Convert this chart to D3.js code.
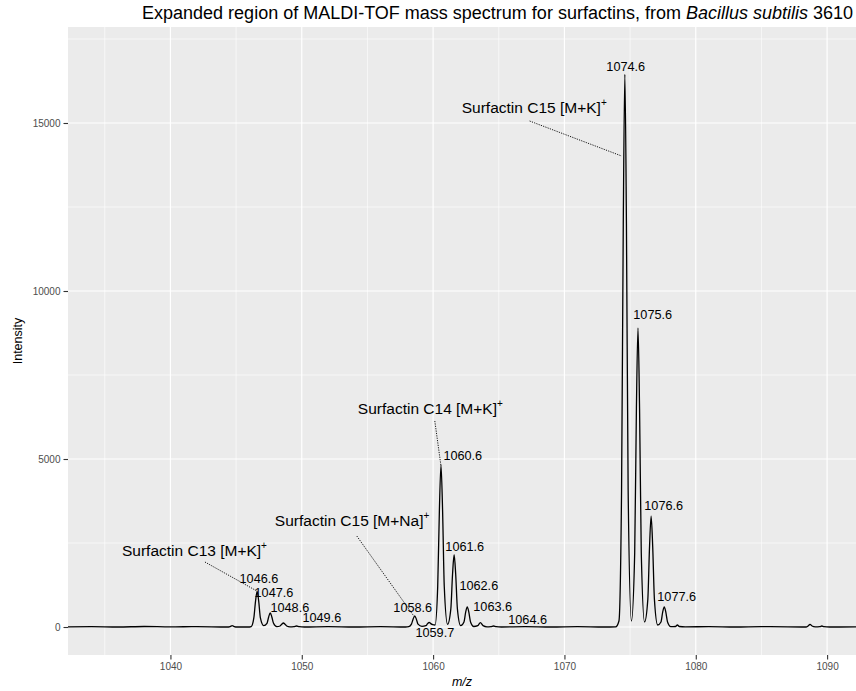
<!DOCTYPE html>
<html>
<head>
<meta charset="utf-8">
<script src="https://cdn.jsdelivr.net/npm/d3@7"></script>
<style>
  body { margin: 0; background: #fff; }
  text { font-family: 'Liberation Sans', Arial, sans-serif; }
</style>
</head>
<body>
<div id="container"></div>
<script>
// profile of the spectrum (m/z, intensity)
let specMz = [
  1032.2, 1034, 1036, 1038, 1040, 1042,
  1044.3, 1044.55, 1044.7, 1044.85, 1045.1, 1045.9,
  1046.15, 1046.35, 1046.48, 1046.6, 1046.72, 1046.85,
  1047.1, 1047.35, 1047.48, 1047.6, 1047.72, 1047.85,
  1048.1, 1048.35, 1048.48, 1048.6, 1048.72, 1048.85,
  1049.1, 1049.4, 1049.6, 1049.8, 1050.2, 1052, 1054, 1056,
  1057.9, 1058.15, 1058.35, 1058.48, 1058.6, 1058.72, 1058.85,
  1059.15, 1059.45, 1059.58, 1059.7, 1059.82, 1059.97,
  1060.15, 1060.35, 1060.48, 1060.6, 1060.72, 1060.85,
  1061.1, 1061.35, 1061.48, 1061.6, 1061.72, 1061.85,
  1062.1, 1062.35, 1062.48, 1062.6, 1062.72, 1062.85,
  1063.1, 1063.4, 1063.6, 1063.8, 1064.1, 1064.4, 1064.6, 1064.8,
  1065.2, 1067, 1069, 1071, 1073, 1073.9,
  1074.15, 1074.35, 1074.48, 1074.6, 1074.72, 1074.85,
  1075.1, 1075.35, 1075.48, 1075.6, 1075.72, 1075.85,
  1076.1, 1076.35, 1076.48, 1076.6, 1076.72, 1076.85,
  1077.1, 1077.35, 1077.48, 1077.6, 1077.72, 1077.85,
  1078.1, 1078.45, 1078.6, 1078.75, 1079.2, 1081, 1083, 1085, 1087,
  1088.4, 1088.55, 1088.7, 1088.85, 1089.1, 1089.45, 1089.6, 1089.75, 1090.2, 1092.2
]
let specInt = [
  5, 10, 0, 15, 5, 10,
  0, 15, 40, 15, 0, 0,
  15, 270, 770, 1060, 770, 270,
  40, 110, 300, 420, 300, 110,
  10, 30, 85, 120, 85, 30,
  5, 10, 30, 10, 0, 10, 0, 10,
  0, 10, 85, 240, 330, 240, 85,
  20, 40, 100, 140, 100, 70,
  60, 1205, 3500, 4820, 3500, 1205,
  80, 540, 1570, 2150, 1570, 540,
  40, 150, 440, 600, 440, 150,
  15, 40, 130, 40, 5, 10, 30, 10,
  0, 10, 0, 10, 0, 5,
  180, 4100, 12000, 16450, 12000, 4100,
  180, 2220, 6500, 8900, 6500, 2220,
  150, 830, 2400, 3300, 2400, 830,
  60, 150, 440, 600, 440, 150,
  10, 15, 60, 15, 5, 10, 0, 10, 5,
  0, 30, 80, 30, 5, 10, 30, 10, 0, 5
]

// peak labels and where their text sits (data units)
let peakLabels = ['1046.6', '1047.6', '1048.6', '1049.6', '1058.6', '1059.7', '1060.6', '1061.6',
  '1062.6', '1063.6', '1064.6', '1074.6', '1075.6', '1076.6', '1077.6']
let peakLabelMz = [1046.74, 1047.88, 1049.09, 1051.53, 1058.45, 1060.13, 1062.26, 1062.41,
  1063.48, 1064.54, 1067.2, 1074.67, 1076.72, 1077.56, 1078.55]
let peakLabelInt = [1428, 1012, 565, 268, 565, -179, 5089, 2381,
  1220, 595, 208, 16667, 9286, 3601, 893]

// compound annotations
let annoNames = ['Surfactin C13 [M+K]', 'Surfactin C15 [M+Na]', 'Surfactin C14 [M+K]', 'Surfactin C15 [M+K]']
let annoMz = [1036.31, 1047.95, 1054.27, 1062.18]
let annoInt = [2262, 3155, 6488, 15445]
let segFromMz = [1042.63, 1054.19, 1060.13, 1067.35]
let segFromInt = [1934, 2708, 6131, 15059]
let segToMz = [1046.58, 1058.53, 1060.59, 1074.36]
let segToInt = [1071, 327, 4821, 14017]

let xTicks = [1040, 1050, 1060, 1070, 1080, 1090],
  xMinor = [1035, 1045, 1055, 1065, 1075, 1085],
  yTicks = [0, 5000, 10000, 15000],
  yMinor = [2500, 7500, 12500, 17500]

let width = 856,
  height = 691,
  margin = { top: 27, right: 0, bottom: 36, left: 68 },
  bodyWidth = width - margin.left - margin.right,
  bodyHeight = height - margin.top - margin.bottom

let xScale = d3.scaleLinear().domain([1032.2, 1092.2]).range([0, bodyWidth]),
  yScale = d3.scaleLinear().domain([-833, 17857]).range([bodyHeight, 0])

let svg = d3.select('#container')
  .append('svg')
  .attr('width', width)
  .attr('height', height)

let g = svg.append('g')
  .attr('transform', 'translate(' + margin.left + ', ' + margin.top + ')')

g.append('rect')
  .attr('width', bodyWidth)
  .attr('height', bodyHeight)
  .attr('fill', '#EBEBEB')

// grid
g.selectAll('.vminor').data(xMinor).enter().append('line')
  .attr('x1', d => xScale(d)).attr('x2', d => xScale(d))
  .attr('y1', 0).attr('y2', bodyHeight)
  .attr('stroke', '#fff').attr('stroke-width', 0.6)
g.selectAll('.hminor').data(yMinor).enter().append('line')
  .attr('y1', d => yScale(d)).attr('y2', d => yScale(d))
  .attr('x1', 0).attr('x2', bodyWidth)
  .attr('stroke', '#fff').attr('stroke-width', 0.6)
g.selectAll('.vmajor').data(xTicks).enter().append('line')
  .attr('x1', d => xScale(d)).attr('x2', d => xScale(d))
  .attr('y1', 0).attr('y2', bodyHeight)
  .attr('stroke', '#fff').attr('stroke-width', 1.2)
g.selectAll('.hmajor').data(yTicks).enter().append('line')
  .attr('y1', d => yScale(d)).attr('y2', d => yScale(d))
  .attr('x1', 0).attr('x2', bodyWidth)
  .attr('stroke', '#fff').attr('stroke-width', 1.2)

let spectrum = specMz.map((d, i) => [d, specInt[i]])
let line = d3.line()
  .x(d => xScale(d[0]))
  .y(d => yScale(d[1]))
  .curve(d3.curveMonotoneX)

g.append('path')
  .attr('d', line(spectrum))
  .attr('fill', 'none')
  .attr('stroke', '#000')
  .attr('stroke-width', 1.3)

// dotted leader lines
g.selectAll('.seg').data(annoNames).enter().append('line')
  .attr('x1', (d, i) => xScale(segFromMz[i]))
  .attr('y1', (d, i) => yScale(segFromInt[i]))
  .attr('x2', (d, i) => xScale(segToMz[i]))
  .attr('y2', (d, i) => yScale(segToInt[i]))
  .attr('stroke', '#000')
  .attr('stroke-width', 0.9)
  .attr('stroke-dasharray', '1.2,1.2')

let anno = g.selectAll('.anno').data(annoNames).enter().append('text')
  .attr('x', (d, i) => xScale(annoMz[i]))
  .attr('y', (d, i) => yScale(annoInt[i]))
  .attr('dy', '0.35em')
  .attr('font-size', '15.5px')
  .attr('fill', '#000')
anno.append('tspan').text(d => d)
anno.append('tspan').text('+')
  .attr('font-size', '10px')
  .attr('dy', '-0.7em')

g.selectAll('.plabel').data(peakLabels).enter().append('text')
  .attr('x', (d, i) => xScale(peakLabelMz[i]))
  .attr('y', (d, i) => yScale(peakLabelInt[i]))
  .attr('dy', '0.35em')
  .attr('text-anchor', 'middle')
  .attr('font-size', '12.7px')
  .attr('fill', '#000')
  .text(d => d)

// axes
let xAxis = d3.axisBottom(xScale).tickValues(xTicks).tickSize(4.5).tickPadding(3).tickFormat(d3.format('d')),
  yAxis = d3.axisLeft(yScale).tickValues(yTicks).tickSize(4.5).tickPadding(3).tickFormat(d3.format('d'))

let gx = g.append('g')
  .attr('transform', 'translate(0, ' + bodyHeight + ')')
  .call(xAxis)
let gy = g.append('g')
  .call(yAxis)

;[gx, gy].forEach(a => {
  a.select('.domain').remove()
  a.selectAll('line').attr('stroke', '#333').attr('stroke-width', 1.1)
  a.selectAll('text').attr('fill', '#4D4D4D').attr('font-size', '10px')
    .attr('font-family', "'Liberation Sans', Arial, sans-serif")
})

g.append('text')
  .attr('transform', 'rotate(-90)')
  .attr('x', -bodyHeight / 2)
  .attr('y', -margin.left + 22)
  .attr('text-anchor', 'middle')
  .attr('font-size', '12.5px')
  .text('Intensity')

g.append('text')
  .attr('x', bodyWidth / 2)
  .attr('y', bodyHeight + 31)
  .attr('text-anchor', 'middle')
  .attr('font-size', '12.5px')
  .attr('font-style', 'italic')
  .text('m/z')

let title = svg.append('text')
  .attr('x', 853)
  .attr('y', 19)
  .attr('text-anchor', 'end')
  .attr('font-size', '18px')
title.append('tspan').text('Expanded region of MALDI-TOF mass spectrum for surfactins, from ')
title.append('tspan').attr('font-style', 'italic').text('Bacillus subtilis')
title.append('tspan').text(' 3610')
</script>
</body>
</html>
